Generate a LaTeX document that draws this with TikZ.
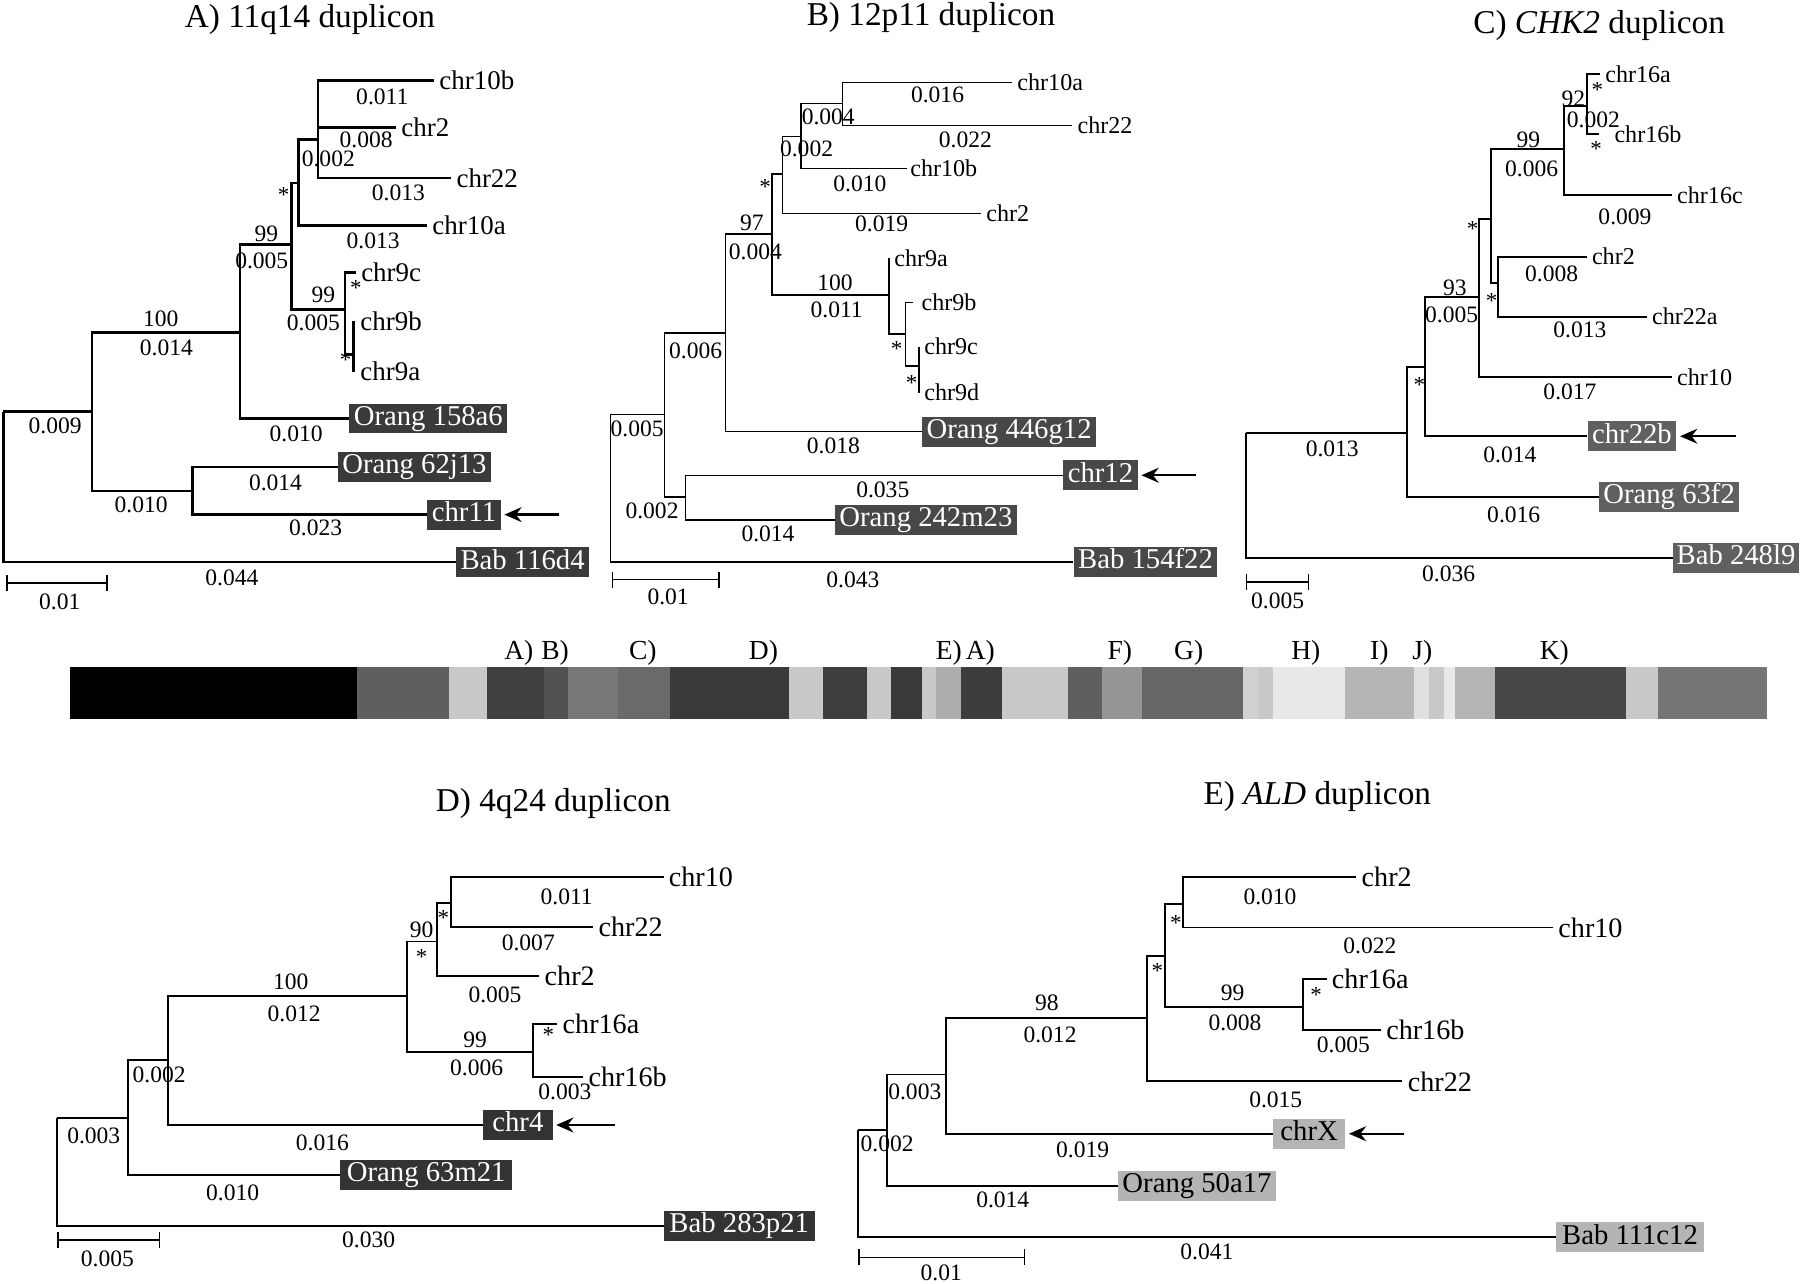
\documentclass[tikz,border=0pt]{standalone}
\usepackage{fontspec}
\setmainfont{Liberation Serif}
\usetikzlibrary{arrows.meta}
\definecolor{bxa}{HTML}{3A3A3A}
\definecolor{bxb}{HTML}{484848}
\definecolor{bxc}{HTML}{606060}
\definecolor{bxd}{HTML}{333333}
\definecolor{bxe}{HTML}{B4B4B4}
\begin{document}
\begin{tikzpicture}[x=1pt,y=-1pt,
  ttl/.style={font=\fontsize{29}{32}\selectfont, inner sep=0pt},
  bl/.style={font=\fontsize{20.5}{22}\selectfont, inner sep=0pt},
  stl/.style={font=\fontsize{20}{22}\selectfont, inner sep=0pt, yshift=-3pt},
  lf/.style={anchor=west, inner xsep=4.5pt, inner ysep=0pt},
  lfA/.style={lf, font=\fontsize{23.5}{25}\selectfont},
  lfB/.style={lf, font=\fontsize{21}{23}\selectfont},
  lfD/.style={lf, font=\fontsize{24.5}{26}\selectfont},
  bx/.style={anchor=west, font=\fontsize{25}{27}\selectfont, inner xsep=4pt, inner ysep=1.5pt, text height=17.5pt, text depth=5.5pt},
  bxA/.style={bx, fill=bxa, text=white},
  bxB/.style={bx, fill=bxb, text=white},
  bxC/.style={bx, fill=bxc, text=white},
  bxD/.style={bx, fill=bxd, text=white},
  bxE/.style={bx, fill=bxe, text=black},
  trA/.style={line width=2.2pt},
  trB/.style={line width=1.3pt},
  trC/.style={line width=1.7pt},
  trD/.style={line width=1.6pt},
  arr/.style={-{Stealth[length=15pt,width=13pt,inset=5pt]}, line width=2pt, shorten >=3pt},
  sbar/.style={{Bar[width=14pt]}-{Bar[width=14pt]}, line width=1.8pt},
  barlab/.style={font=\fontsize{24}{26}\selectfont, inner sep=0pt}
]
\useasboundingbox (0,0) rectangle (1568,1118);

%%%%%%%%%%%%%%%% Panel A
\node[ttl] (aT) at (270,17) {A) 11q14 duplicon};
\coordinate (aR) at (3,358.6);
\coordinate (a1) at (80,358.6);
\coordinate (a2) at (167.7,427.6);
\coordinate (a3) at (209,289.7);
\coordinate (a4) at (254,213);
\coordinate (a5) at (260,159.3);
\coordinate (a6) at (277,121.4);
\coordinate (a7) at (300.5,269.4);
\coordinate (a8) at (307.8,309);
\node[lfA] (aL10b) at (378,70) {chr10b};
\node[lfA] (aL2) at (345,111) {chr2};
\node[lfA] (aL22) at (393,155) {chr22};
\node[lfA] (aL10a) at (372,196.6) {chr10a};
\node[lfA] (aL9c) at (310,237.5) {chr9c};
\node[lfA, inner xsep=6pt] (aL9b) at (307.8,280) {chr9b};
\node[lfA, inner xsep=6pt] (aL9a) at (307.8,323.7) {chr9a};
\node[bxA] (aB1) at (304,364.5) {Orang 158a6};
\node[bxA] (aB2) at (294,406.9) {Orang 62j13};
\node[bxA] (aB3) at (372,448.3) {chr11};
\node[bxA] (aB4) at (397,489.7) {Bab 116d4};
\draw[trA] (aR) |- (a1) (aR) |- (aB4.west)
  (a1) |- (a3) (a1) |- (a2)
  (a2) |- (aB2.west) (a2) |- (aB3.west)
  (a3) |- (a4) (a3) |- (aB1.west)
  (a4) |- (a5) (a4) |- (a7)
  (a5) |- (a6) (a5) |- (aL10a.west)
  (a6) |- (aL10b.west) (a6) |- (aL2.west) (a6) |- (aL22.west)
  (a7) |- (aL9c.west) (a7) |- (a8)
  (a8) |- (aL9b.west) (a8) |- (aL9a.west);
\coordinate (aA) at (487,448.3);
\draw[arr] (aA) -- (aB3.east);
\coordinate (aS1) at (5,508);
\coordinate (aS2) at (94,508);
\draw[sbar] (aS1) -- (aS2);
\node[bl] (aN1) at (48,371) {0.009};
\node[bl] (aN2) at (140,277.6) {100};
\node[bl] (aN3) at (145,303.4) {0.014};
\node[bl] (aN4) at (123,439.7) {0.010};
\node[bl] (aN5) at (240,420.7) {0.014};
\node[bl] (aN6) at (275,460) {0.023};
\node[bl] (aN7) at (202,503) {0.044};
\node[bl] (aN8) at (52,524) {0.01};
\node[bl] (aN9) at (258,377.6) {0.010};
\node[bl] (aN10) at (232,203.4) {99};
\node[bl] (aN11) at (228,227.6) {0.005};
\node[bl] (aN12) at (281.6,257) {99};
\node[bl] (aN13) at (273,281) {0.005};
\node[bl] (aN14) at (286,138) {0.002};
\node[bl] (aN15) at (325,210) {0.013};
\node[bl] (aN16) at (333,84) {0.011};
\node[bl] (aN17) at (319,122) {0.008};
\node[bl] (aN18) at (347,168) {0.013};
\node[stl] (aX1) at (247,167) {*};
\node[stl] (aX2) at (310,248) {*};
\node[stl] (aX3) at (301,311) {*};

%%%%%%%%%%%%%%%% Panel B
\node[ttl] (bT) at (811,15.5) {B) 12p11 duplicon};
\coordinate (bR) at (532,361);
\coordinate (b1) at (579,361);
\coordinate (b2) at (597,433);
\coordinate (b3) at (632,290);
\coordinate (b4) at (672.7,204);
\coordinate (b5) at (681.5,151.6);
\coordinate (b6) at (697.7,119);
\coordinate (b7) at (733.7,90);
\coordinate (b8) at (774.4,257);
\coordinate (b9) at (789,291);
\coordinate (b10) at (800.5,318.8);
\node[lfB] (bL10a) at (881.6,71.8) {chr10a};
\node[lfB] (bL22) at (934,109.5) {chr22};
\node[lfB, inner xsep=3pt] (bL10b) at (789.8,147) {chr10b};
\node[lfB] (bL2) at (854.6,186) {chr2};
\node[lfB] (bL9a) at (774.4,225) {chr9a};
\node[lfB, inner xsep=7pt] (bL9b) at (795.6,263.7) {chr9b};
\node[lfB] (bL9c) at (800.5,302) {chr9c};
\node[lfB] (bL9d) at (800.5,342) {chr9d};
\node[bxB] (bB1) at (803,376) {Orang 446g12};
\node[bxB] (bB2) at (926,414) {chr12};
\node[bxB] (bB3) at (727,453) {Orang 242m23};
\node[bxB] (bB4) at (935,489.5) {Bab 154f22};
\draw[trB] (bR) |- (b1) (bR) |- (bB4.west)
  (b1) |- (b3) (b1) |- (b2)
  (b2) |- (bB2.west) (b2) |- (bB3.west)
  (b3) |- (b4) (b3) |- (bB1.west)
  (b4) |- (b5) (b4) |- (b8)
  (b5) |- (b6) (b5) |- (bL2.west)
  (b6) |- (b7) (b6) |- (bL10b.west)
  (b7) |- (bL10a.west) (b7) |- (bL22.west)
  (b8) |- (bL9a.west) (b8) |- (b9)
  (b9) |- (bL9b.west) (b9) |- (b10)
  (b10) |- (bL9c.west) (b10) |- (bL9d.west);
\coordinate (bA) at (1042,414);
\draw[arr] (bA) -- (bB2.east);
\coordinate (bS1) at (533,505);
\coordinate (bS2) at (627,505);
\draw[sbar, line width=1.3pt] (bS1) -- (bS2);
\node[bl] (bN1) at (555,374) {0.005};
\node[bl] (bN2) at (606,306) {0.006};
\node[bl] (bN3) at (568,445) {0.002};
\node[bl] (bN4) at (769,427) {0.035};
\node[bl] (bN5) at (669,465) {0.014};
\node[bl] (bN6) at (743,505) {0.043};
\node[bl] (bN7) at (582,520) {0.01};
\node[bl] (bN8) at (726,388) {0.018};
\node[bl] (bN9) at (655,194) {97};
\node[bl] (bN10) at (658,219) {0.004};
\node[bl] (bN11) at (702.6,130) {0.002};
\node[bl] (bN12) at (768,195.2) {0.019};
\node[bl] (bN13) at (721.5,101.7) {0.004};
\node[bl] (bN14) at (749,160.3) {0.010};
\node[bl] (bN15) at (816.7,83) {0.016};
\node[bl] (bN16) at (841,122) {0.022};
\node[bl] (bN17) at (727.3,246.3) {100};
\node[bl] (bN18) at (728.8,270) {0.011};
\node[stl] (bX1) at (666.4,159.7) {*};
\node[stl] (bX2) at (781,301.4) {*};
\node[stl] (bX3) at (794,330.5) {*};

%%%%%%%%%%%%%%%% Panel C
\node[ttl] (cT) at (1393,22) {C) \textit{CHK2} duplicon};
\coordinate (cR) at (1085.3,377.5);
\coordinate (c1) at (1225.3,377.5);
\coordinate (c2) at (1241.3,319.4);
\coordinate (c3) at (1288.6,258.5);
\coordinate (c4) at (1298.5,191.1);
\coordinate (c5) at (1305.2,246.9);
\coordinate (c6) at (1362.7,130.1);
\coordinate (c7) at (1382.1,92.4);
\node[lfB] (cL16a) at (1393.7,64.5) {chr16a};
\node[lfB, inner xsep=13pt] (cL16b) at (1393.2,116.6) {chr16b};
\node[lfB] (cL16c) at (1456.3,169.9) {chr16c};
\node[lfB] (cL2) at (1382.1,223.6) {chr2};
\node[lfB] (cL22a) at (1434.4,275.9) {chr22a};
\node[lfB] (cL10) at (1456.3,328.5) {chr10};
\node[bxC] (cB1) at (1382.7,380) {chr22b};
\node[bxC] (cB2) at (1392.5,433) {Orang 63f2};
\node[bxC, inner xsep=3pt] (cB3) at (1457.3,486) {Bab 248l9};
\draw[trC] (cR) |- (c1) (cR) |- (cB3.west)
  (c1) |- (c2) (c1) |- (cB2.west)
  (c2) |- (c3) (c2) |- (cB1.west)
  (c3) |- (c4) (c3) |- (cL10.west)
  (c4) |- (c6) (c4) |- (c5)
  (c5) |- (cL2.west) (c5) |- (cL22a.west)
  (c6) |- (c7) (c6) |- (cL16c.west)
  (c7) |- (cL16a.west) (c7) |- (cL16b.west);
\coordinate (cA) at (1512.4,380);
\draw[arr] (cA) -- (cB1.east);
\coordinate (cS1) at (1085.3,507);
\coordinate (cS2) at (1140.4,507);
\draw[sbar, line width=1.3pt] (cS1) -- (cS2);
\node[bl] (cN1) at (1160.5,391) {0.013};
\node[bl] (cN2) at (1318.6,448.5) {0.016};
\node[bl] (cN3) at (1261.9,500) {0.036};
\node[bl] (cN4) at (1112.9,523) {0.005};
\node[bl] (cN5) at (1315.3,396.4) {0.014};
\node[bl] (cN6) at (1267.4,250.3) {93};
\node[bl] (cN7) at (1264.5,274.4) {0.005};
\node[bl] (cN8) at (1367.6,341.2) {0.017};
\node[bl] (cN9) at (1331.3,121.4) {99};
\node[bl] (cN10) at (1334.2,146.7) {0.006};
\node[bl] (cN11) at (1351.6,238.2) {0.008};
\node[bl] (cN12) at (1376.3,287) {0.013};
\node[bl] (cN13) at (1415.5,188.8) {0.009};
\node[bl] (cN14) at (1370.5,85.7) {92};
\node[bl] (cN15) at (1388,104.6) {0.002};
\node[stl] (cX1) at (1236.4,332.5) {*};
\node[stl] (cX2) at (1282.8,196.9) {*};
\node[stl] (cX3) at (1299.4,259) {*};
\node[stl] (cX4) at (1391.4,75.5) {*};
\node[stl] (cX5) at (1390.3,126.4) {*};

%%%%%%%%%%%%%%%% Middle bar
\foreach \xa/\xb/\cc [count=\i] in {61/311/000000, 311/391/5F5F5F, 391/424/C8C8C8, 424/473.5/404040,
  473.5/494.5/525252, 494.5/538.5/777777, 538.5/584/6A6A6A, 584/687/3A3A3A, 687/716.5/C8C8C8,
  716.5/755.5/3E3E3E, 755.5/776.5/C8C8C8, 776.5/803/3A3A3A, 803/815/C8C8C8, 815/837.5/ADADAD,
  837.5/872.5/3C3C3C, 872.5/930.5/C8C8C8, 930.5/960/5F5F5F, 960/995/959595, 995/1083/666666,
  1083/1096.5/D0D0D0, 1096.5/1109/C8C8C8, 1109/1171.5/E8E8E8, 1171.5/1231.5/B5B5B5,
  1231.5/1245/E0E0E0, 1245/1258/C8C8C8, 1258/1267.5/E8E8E8, 1267.5/1302.5/B5B5B5,
  1302.5/1416.5/474747, 1416.5/1444/C8C8C8, 1444/1539.5/767676}
{
  \definecolor{segc}{HTML}{\cc}
  \fill[segc] (\xa,581) rectangle (\xb,626);
}
\node[barlab] (m1) at (452,569) {A)};
\node[barlab] (m2) at (483.5,569) {B)};
\node[barlab] (m3) at (560,569) {C)};
\node[barlab] (m4) at (665,569) {D)};
\node[barlab] (m5) at (826.5,569) {E)};
\node[barlab] (m6) at (854,569) {A)};
\node[barlab] (m7) at (975.5,569) {F)};
\node[barlab] (m8) at (1035.5,569) {G)};
\node[barlab] (m9) at (1137.5,569) {H)};
\node[barlab] (m10) at (1201.5,569) {I)};
\node[barlab] (m11) at (1239,569) {J)};
\node[barlab] (m12) at (1354,569) {K)};

%%%%%%%%%%%%%%%% Panel D
\node[ttl] (dT) at (482,699.5) {D) 4q24 duplicon};
\coordinate (dR) at (50,974);
\coordinate (d1) at (111.6,974);
\coordinate (d2) at (146.7,923.3);
\coordinate (d3) at (354.8,867.5);
\coordinate (d4) at (381,820.2);
\coordinate (d5) at (392.6,786.9);
\coordinate (d6) at (464.6,916.1);
\node[lfD] (dL10) at (578,764) {chr10};
\node[lfD] (dL22) at (516.8,807.5) {chr22};
\node[lfD] (dL2) at (469.8,850.2) {chr2};
\node[lfD] (dL16a) at (485.5,892) {chr16a};
\node[lfD] (dL16b) at (508,938) {chr16b};
\node[bxD, inner xsep=8pt] (dB1) at (420.7,980) {chr4};
\node[bxD, inner xsep=6pt] (dB2) at (296,1023.5) {Orang 63m21};
\node[bxD, inner xsep=5pt] (dB3) at (578,1068) {Bab 283p21};
\draw[trD] (dR) |- (d1) (dR) |- (dB3.west)
  (d1) |- (d2) (d1) |- (dB2.west)
  (d2) |- (d3) (d2) |- (dB1.west)
  (d3) |- (d4) (d3) |- (d6)
  (d4) |- (d5) (d4) |- (dL2.west)
  (d5) |- (dL10.west) (d5) |- (dL22.west)
  (d6) |- (dL16a.west) (d6) |- (dL16b.west);
\coordinate (dA) at (536,980);
\draw[arr] (dA) -- (dB1.east);
\coordinate (dS1) at (50,1080);
\coordinate (dS2) at (139.6,1080);
\draw[sbar, line width=1.4pt] (dS1) -- (dS2);
\node[bl] (dN1) at (81.7,989) {0.003};
\node[bl] (dN2) at (138.6,936) {0.002};
\node[bl] (dN3) at (253.3,855.6) {100};
\node[bl] (dN4) at (256.2,882.9) {0.012};
\node[bl] (dN5) at (280.8,995.2) {0.016};
\node[bl] (dN6) at (202.6,1039.2) {0.010};
\node[bl] (dN7) at (321.1,1080.2) {0.030};
\node[bl] (dN8) at (93.6,1096.9) {0.005};
\node[bl] (dN9) at (493.6,781) {0.011};
\node[bl] (dN10) at (460.2,821.7) {0.007};
\node[bl] (dN11) at (367.3,810) {90};
\node[bl] (dN12) at (431.2,866.7) {0.005};
\node[bl] (dN13) at (413.8,905.9) {99};
\node[bl] (dN14) at (415.2,930.6) {0.006};
\node[bl] (dN15) at (492.1,951) {0.003};
\node[stl] (dX1) at (386.2,797) {*};
\node[stl] (dX2) at (367.3,831) {*};
\node[stl] (dX3) at (477.6,898.6) {*};

%%%%%%%%%%%%%%%% Panel E
\node[ttl] (eT) at (1147.5,693.5) {E) \textit{ALD} duplicon};
\coordinate (eR) at (747.6,984);
\coordinate (e1) at (772.8,984);
\coordinate (e2) at (823.7,936);
\coordinate (e3) at (999.4,886.8);
\coordinate (e4) at (1014.8,832.7);
\coordinate (e5) at (1030.8,787.7);
\coordinate (e6) at (1135.3,876.9);
\node[lfD] (eL2) at (1181.5,764) {chr2};
\node[lfD] (eL10) at (1352.9,808) {chr10};
\node[lfD] (eL16a) at (1155.6,853) {chr16a};
\node[lfD] (eL16b) at (1202.9,897.5) {chr16b};
\node[lfD] (eL22) at (1221.7,942) {chr22};
\node[bxE, inner xsep=6.5pt] (eB1) at (1108.7,987.6) {chrX};
\node[bxE] (eB2) at (973.6,1033.1) {Orang 50a17};
\node[bxE, inner xsep=5pt] (eB3) at (1355.6,1077.7) {Bab 111c12};
\draw[trD] (eR) |- (e1) (eR) |- (eB3.west)
  (e1) |- (e2) (e1) |- (eB2.west)
  (e2) |- (e3) (e2) |- (eB1.west)
  (e3) |- (e4) (e3) |- (eL22.west)
  (e4) |- (e5) (e4) |- (e6)
  (e5) |- (eL2.west) (e5) |- (eL10.west)
  (e6) |- (eL16a.west) (e6) |- (eL16b.west);
\coordinate (eA) at (1222.8,987.6);
\draw[arr] (eA) -- (eB1.east);
\coordinate (eS1) at (747.6,1095.3);
\coordinate (eS2) at (893.3,1095.3);
\draw[sbar, line width=1.4pt] (eS1) -- (eS2);
\node[bl] (eN1) at (1106.3,781) {0.010};
\node[bl] (eN2) at (1193.3,823.7) {0.022};
\node[bl] (eN3) at (1073.8,865.2) {99};
\node[bl] (eN4) at (1075.8,891.4) {0.008};
\node[bl] (eN5) at (1170.2,910.2) {0.005};
\node[bl] (eN6) at (1111.3,958.2) {0.015};
\node[bl] (eN7) at (912,873.8) {98};
\node[bl] (eN8) at (914.7,901.1) {0.012};
\node[bl] (eN9) at (943.1,1001.3) {0.019};
\node[bl] (eN10) at (796.9,951.2) {0.003};
\node[bl] (eN11) at (873.5,1045.3) {0.014};
\node[bl] (eN12) at (772.8,996.7) {0.002};
\node[bl] (eN13) at (1051.3,1090.8) {0.041};
\node[bl] (eN14) at (819.9,1109) {0.01};
\node[stl] (eX1) at (1024.4,800.8) {*};
\node[stl] (eX2) at (1008.1,842.6) {*};
\node[stl] (eX3) at (1146.4,863.8) {*};
\end{tikzpicture}
\end{document}
